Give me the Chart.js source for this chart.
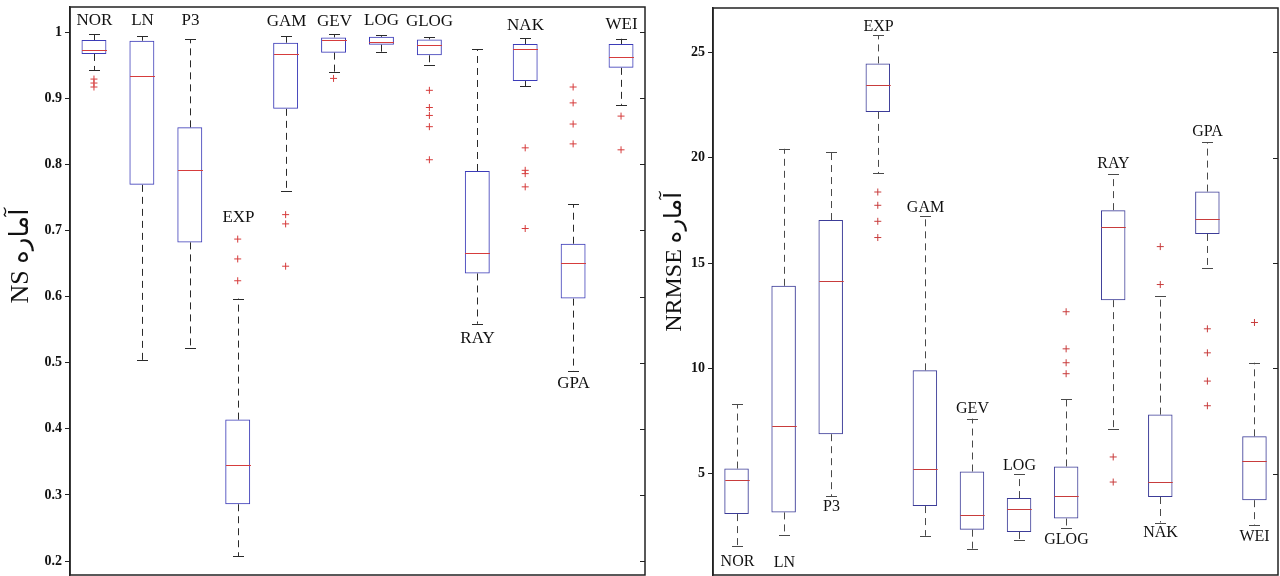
<!DOCTYPE html>
<html>
<head>
<meta charset="utf-8">
<script src="https://cdn.jsdelivr.net/npm/chart.js@4.4.0/dist/chart.umd.min.js"></script>
<style>
  html, body { margin: 0; padding: 0; background: #fff; }
  #wrapNs { position: absolute; left: 0; top: 0; width: 650px; height: 576px; }
  #wrapNrmse { position: absolute; left: 650px; top: 0; width: 630px; height: 576px; }
</style>
</head>
<body>
<div id="wrapNs"><canvas id="nsChart"></canvas></div>
<div id="wrapNrmse"><canvas id="nrmseChart"></canvas></div>
<script>
const categories = ['NOR', 'LN', 'P3', 'EXP', 'GAM', 'GEV', 'LOG', 'GLOG', 'RAY', 'NAK', 'GPA', 'WEI'];

// NS statistic (left panel)
const nsTicks = [0.2, 0.3, 0.4, 0.5, 0.6, 0.7, 0.8, 0.9, 1];
const nsWhiskerLow = [0.942, 0.504, 0.523, 0.207, 0.759, 0.939, 0.970, 0.951, 0.559, 0.918, 0.488, 0.890];
const nsQ1 = [0.967, 0.769, 0.682, 0.286, 0.884, 0.969, 0.981, 0.965, 0.635, 0.926, 0.597, 0.946];
const nsMedian = [0.973, 0.934, 0.791, 0.346, 0.967, 0.988, 0.985, 0.981, 0.666, 0.974, 0.651, 0.962];
const nsQ3 = [0.988, 0.987, 0.856, 0.414, 0.984, 0.992, 0.993, 0.989, 0.790, 0.982, 0.680, 0.982];
const nsWhiskerHigh = [0.997, 0.994, 0.989, 0.597, 0.994, 0.997, 0.995, 0.992, 0.974, 0.991, 0.740, 0.990];
const nsOutliers = [
  [0.929, 0.923, 0.917], [], [], [0.687, 0.657, 0.624], [0.724, 0.710, 0.646], [0.930], [],
  [0.912, 0.886, 0.874, 0.857, 0.807], [], [0.825, 0.791, 0.786, 0.766, 0.703],
  [0.917, 0.893, 0.861, 0.831], [0.873, 0.822]
];
const nsLabelSide = ['top', 'top', 'top', 'top', 'top', 'top', 'top', 'top', 'bottom', 'top', 'bottom', 'top'];

// NRMSE statistic (right panel)
const nrmseTicks = [5, 10, 15, 20, 25];
const nrmseWhiskerLow = [1.56, 2.11, 3.93, 19.25, 2.06, 1.43, 1.88, 2.41, 7.12, 2.69, 14.77, 2.59];
const nrmseQ1 = [3.09, 3.17, 6.88, 22.17, 3.47, 2.35, 2.24, 2.88, 13.24, 3.90, 16.38, 3.75];
const nrmseMedian = [4.72, 7.29, 14.14, 23.43, 5.25, 3.04, 3.34, 3.93, 16.71, 4.61, 17.11, 5.60];
const nrmseQ3 = [5.25, 13.92, 17.04, 24.47, 9.91, 5.11, 3.85, 5.35, 17.51, 7.81, 18.39, 6.78];
const nrmseWhiskerHigh = [8.31, 20.42, 20.25, 25.80, 17.22, 7.62, 4.99, 8.57, 19.22, 13.46, 20.72, 10.27];
const nrmseOutliers = [
  [], [], [], [18.37, 17.74, 16.98, 16.21], [], [], [], [12.69, 10.93, 10.27, 9.75],
  [5.80, 4.61], [15.78, 13.98], [11.88, 10.74, 9.40, 8.23], [12.18]
];
const nrmseLabelSide = ['bottom', 'bottom', 'bottom', 'top', 'top', 'top', 'top', 'bottom', 'top', 'bottom', 'top', 'bottom'];

const SERIF = '"Liberation Serif", "DejaVu Serif", "DejaVu Sans", serif';

function makeExtras(p) {
  return {
    id: 'boxExtras',
    afterDatasetsDraw(chart) {
      const { ctx, chartArea: a, scales: { x, y } } = chart;
      const boxes = chart.getDatasetMeta(0).data;
      const line = (x1, y1, x2, y2) => { ctx.beginPath(); ctx.moveTo(x1, y1); ctx.lineTo(x2, y2); ctx.stroke(); };
      ctx.save();
      categories.forEach((name, i) => {
        const cx = Math.round(x.getPixelForValue(i)) + 0.5;
        const half = boxes[i].width / 2;
        const yLo = y.getPixelForValue(p.lo[i]);
        const yHi = y.getPixelForValue(p.hi[i]);
        // dashed whiskers
        ctx.strokeStyle = p.whiskerColor;
        ctx.lineWidth = 1;
        ctx.setLineDash([7, 5]);
        line(cx, y.getPixelForValue(p.q3[i]), cx, yHi);
        line(cx, y.getPixelForValue(p.q1[i]), cx, yLo);
        ctx.setLineDash([]);
        // caps
        line(cx - 5.5, Math.round(yHi) + 0.5, cx + 5.5, Math.round(yHi) + 0.5);
        line(cx - 5.5, Math.round(yLo) + 0.5, cx + 5.5, Math.round(yLo) + 0.5);
        // median
        ctx.strokeStyle = p.medianColor;
        const ym = Math.round(y.getPixelForValue(p.med[i])) + 0.5;
        line(cx - half, ym, cx + half, ym);
        // category label
        const all = [p.lo[i], p.hi[i], ...p.out[i]];
        let ly;
        if (p.side[i] === 'top') ly = y.getPixelForValue(Math.max(...all)) - p.gap[i];
        else ly = y.getPixelForValue(Math.min(...all)) + p.gap[i];
        ctx.fillStyle = '#111';
        ctx.font = p.labelSize + 'px ' + SERIF;
        ctx.textAlign = 'center';
        ctx.textBaseline = 'middle';
        ctx.fillText(name, cx, ly);
      });
      // frame and inner right ticks
      ctx.strokeStyle = '#222';
      ctx.lineWidth = 1.5;
      ctx.strokeRect(a.left, a.top, a.right - a.left, a.bottom - a.top);
      ctx.lineWidth = 1;
      y.ticks.forEach(t => {
        const ty = Math.round(y.getPixelForValue(t.value)) + 0.5;
        line(a.right - 5, ty, a.right, ty);
      });
      // axis title
      ctx.translate(p.titleX, p.titleY);
      ctx.rotate(-Math.PI / 2);
      ctx.fillStyle = '#111';
      ctx.font = p.titleSize + 'px ' + SERIF;
      ctx.textAlign = 'center';
      ctx.textBaseline = 'middle';
      ctx.fillText(p.title, 0, 0);
      ctx.restore();
    }
  };
}

function boxChart(canvasId, p) {
  const outlierPoints = [];
  p.out.forEach((list, i) => list.forEach(v => outlierPoints.push({ x: categories[i], y: v })));
  return new Chart(document.getElementById(canvasId), {
    type: 'bar',
    data: {
      labels: categories,
      datasets: [{
        label: 'box',
        data: p.q1.map((v, i) => [v, p.q3[i]]),
        backgroundColor: 'rgba(255,255,255,0)',
        borderColor: p.boxColor,
        borderWidth: 1,
        borderSkipped: false,
        barPercentage: 0.52,
        categoryPercentage: 1
      }, {
        type: 'line',
        label: 'outliers',
        data: outlierPoints,
        showLine: false,
        pointStyle: 'cross',
        pointRadius: 3.5,
        borderColor: p.medianColor,
        borderWidth: 1
      }]
    },
    options: {
      responsive: true,
      maintainAspectRatio: false,
      animation: false,
      layout: { padding: p.padding, autoPadding: false },
      plugins: {
        legend: { display: false },
        tooltip: { enabled: false }
      },
      scales: {
        x: { display: false },
        y: {
          min: p.min,
          max: p.max,
          afterFit: s => {
            s.width = p.axisWidth;
            s.paddingTop = 0;
            s.paddingBottom = 0;
          },
          afterBuildTicks: s => { s.ticks = p.ticks.map(v => ({ value: v })); },
          ticks: {
            color: '#111',
            padding: 3,
            font: { family: SERIF, size: 14, weight: 'bold' },
            callback: v => String(v)
          },
          grid: { drawOnChartArea: false, tickLength: 5, color: '#222', lineWidth: 1 },
          border: { display: true, color: '#222', width: 1.5 }
        }
      }
    },
    plugins: [makeExtras(p)]
  });
}

boxChart('nsChart', {
  lo: nsWhiskerLow, q1: nsQ1, med: nsMedian, q3: nsQ3, hi: nsWhiskerHigh, out: nsOutliers,
  side: nsLabelSide, ticks: nsTicks,
  gap: [13.5, 16, 19, 21.6, 15, 12.6, 14.6, 16, 14.6, 13, 13.3, 14.7],
  min: 0.179, max: 1.038, axisWidth: 70,
  padding: { top: 7, right: 5, bottom: 1, left: 0 },
  boxColor: '#3b3bb8', medianColor: '#d63c3c', whiskerColor: '#2a2a2a',
  labelSize: 17, title: 'NS آماره', titleSize: 26, titleX: 21, titleY: 256
});

boxChart('nrmseChart', {
  lo: nrmseWhiskerLow, q1: nrmseQ1, med: nrmseMedian, q3: nrmseQ3, hi: nrmseWhiskerHigh, out: nrmseOutliers,
  side: nrmseLabelSide, ticks: nrmseTicks,
  gap: [15.6, 27.7, 10, 9, 8.7, 9.4, 8.6, 11.3, 10.7, 10.6, 10.3, 11.7],
  min: 0.2, max: 27.1, axisWidth: 63,
  padding: { top: 8, right: 2, bottom: 1, left: 0 },
  boxColor: '#3c3c98', medianColor: '#c83c3c', whiskerColor: '#4a4a4a',
  labelSize: 16, title: 'NRMSE آماره', titleSize: 24, titleX: 25, titleY: 262
});
</script>
</body>
</html>
